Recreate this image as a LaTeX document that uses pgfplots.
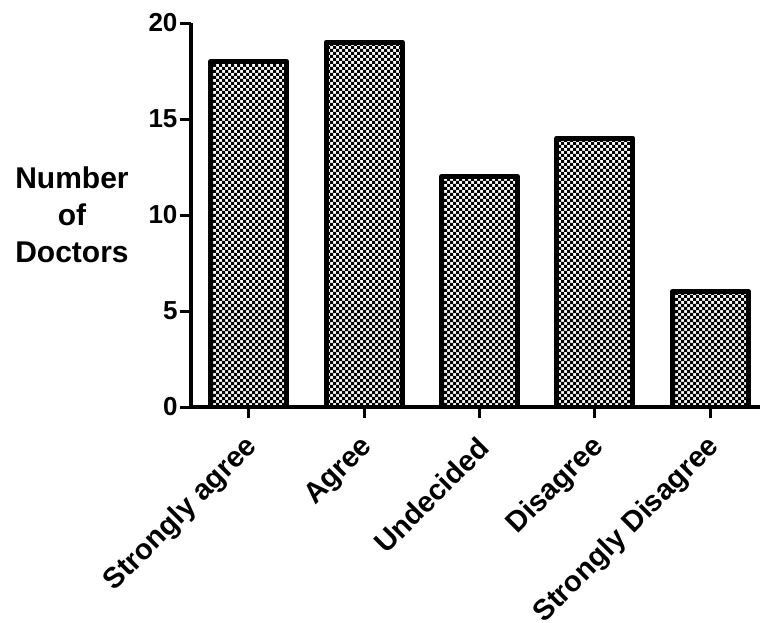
\documentclass[border=0pt]{standalone}
\usepackage{fontspec}
\setmainfont{Liberation Sans}
\usepackage{pgfplots}
\pgfplotsset{compat=1.18}
\usetikzlibrary{patterns}

% checkerboard with 3pt squares, as in the reference
\pgfdeclarepatternformonly{bigchecker}{\pgfqpoint{-.1pt}{-.1pt}}{\pgfqpoint{6.1pt}{6.1pt}}{\pgfqpoint{6pt}{6pt}}{%
  \pgfpathrectangle{\pgfqpoint{0pt}{0pt}}{\pgfqpoint{3.05pt}{3.05pt}}%
  \pgfpathrectangle{\pgfqpoint{3pt}{3pt}}{\pgfqpoint{3.05pt}{3.05pt}}%
  \pgfusepath{fill}}

\begin{document}
\begin{tikzpicture}
\begin{axis}[
    scale only axis,
    width=569pt,
    height=384pt,
    xmin=-0.5, xmax=4.43,
    ymin=0, ymax=20,
    axis lines=left,
    axis line style={-, line width=3.5pt, black},
    xtick={0,1,2,3,4},
    xticklabels={Strongly agree, Agree, Undecided, Disagree, Strongly Disagree},
    ytick={0,5,10,15,20},
    tick align=outside,
    major tick length=11pt,
    every tick/.style={black, line width=3pt},
    /pgf/number format/assume math mode=true,
    yticklabel style={font=\fontsize{26}{30}\selectfont\bfseries, xshift=1pt},
    xticklabel style={font=\fontsize{29}{34}\selectfont\bfseries, rotate=45, anchor=east, xshift=-11pt, yshift=-20.5pt},
    ylabel={Number\\of\\Doctors},
    ylabel style={rotate=-90, align=center, font=\fontsize{30}{37}\selectfont\bfseries,
                  at={(rel axis cs:0,0.5)}, anchor=center, xshift=-119pt},
]
\addplot[ybar, bar width=76pt, draw=black, line width=5pt, line join=round,
         pattern=bigchecker, pattern color=black]
    coordinates {(0,18) (1,19) (2,12) (3,14) (4,6)};
\coordinate (O) at (rel axis cs:0,0);
\end{axis}
\pgfresetboundingbox
\path[use as bounding box] (O) ++(-191pt,-215pt) rectangle ++(760pt,622pt);
\end{tikzpicture}
\end{document}
